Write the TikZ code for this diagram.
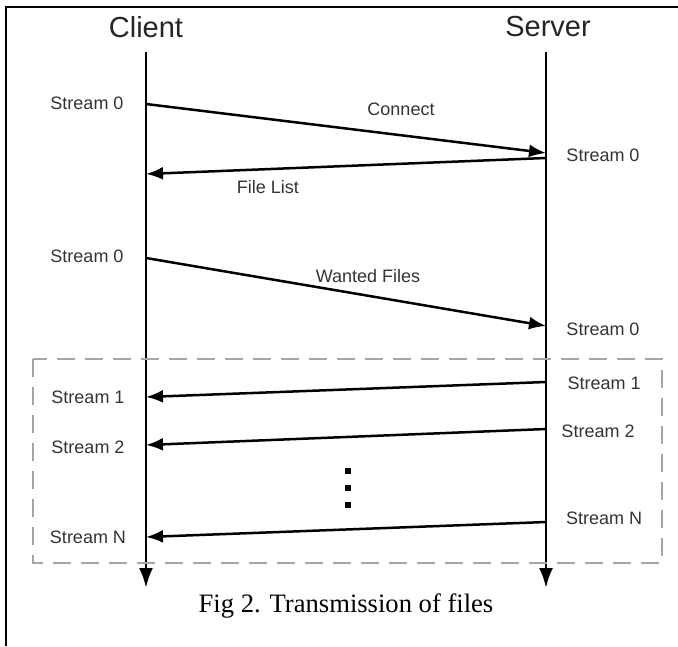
\documentclass[tikz,border=0pt]{standalone}
\usepackage{fontspec}
\setmainfont{Liberation Serif}
\newfontfamily\arialfont{Liberation Sans}
\usetikzlibrary{arrows.meta}

\tikzset{
  lbl/.style={font=\arialfont\fontsize{9}{10}\selectfont, text=black!80, inner sep=1pt},
  msg/.style={line width=1.25pt, -{Latex[length=8.5pt,width=6.5pt]}},
  life/.style={line width=1.4pt, -{Latex[length=10pt,width=7pt]}},
}

\begin{document}
\begin{tikzpicture}[x=0.5pt,y=-0.5pt]
            \useasboundingbox (0,0) rectangle (678,646);
            % 枠
            \draw[line width=1.3pt] (6,646) -- (6,7) -- (678,7);

            % 見出し
            \node[font=\arialfont\fontsize{14.5}{16}\selectfont, text=black!85] (client) at (146,27) {Client};
            \node[font=\arialfont\fontsize{14.5}{16}\selectfont, text=black!85] (server) at (548,27) {Server};

            % 時間軸
            \coordinate (ctop) at (146,52);
            \coordinate (cend) at (146,588);
            \coordinate (stop) at (546,52);
            \coordinate (send) at (546,588);
            \draw[life] (ctop) to (cend);
            \draw[life] (stop) to (send);

            % 破線の枠
            \draw[gray!70, line width=1pt, dash pattern=on 9pt off 5pt] (33,359) rectangle (662,563);

            % Connect
            \coordinate (c1) at (146,104);
            \coordinate (s1) at (546,153);
            \node[lbl] (lc1) at (87,103) {Stream 0};
            \node[lbl] (ls1) at (603,155) {Stream 0};
            \draw[msg] (c1) to (s1);
            \node[lbl] (connect) at (401,109) {Connect};

            % File List
            \coordinate (s2) at (546,158);
            \coordinate (c2) at (146,174);
            \draw[msg] (s2) to (c2);
            \node[lbl] (filelist) at (268,187) {File List};

            % Wanted Files
            \coordinate (c3) at (146,258);
            \coordinate (s3) at (546,326);
            \node[lbl] (lc3) at (87,256) {Stream 0};
            \node[lbl] (ls3) at (603,329) {Stream 0};
            \draw[msg] (c3) to (s3);
            \node[lbl] (wanted) at (368,276) {Wanted Files};

            % Stream 1
            \coordinate (s4) at (546,382);
            \coordinate (c4) at (146,397);
            \node[lbl] (ls4) at (604,383) {Stream 1};
            \node[lbl] (lc4) at (88,397) {Stream 1};
            \draw[msg] (s4) to (c4);

            % Stream 2
            \coordinate (s5) at (546,429);
            \coordinate (c5) at (146,445);
            \node[lbl] (ls5) at (598,431) {Stream 2};
            \node[lbl] (lc5) at (88,447) {Stream 2};
            \draw[msg] (s5) to (c5);

            % 点
            \foreach \y in {471,488,505}
                \fill (345,\y-3) rectangle (351,\y+3);

            % Stream N
            \coordinate (s6) at (546,522);
            \coordinate (c6) at (146,537);
            \node[lbl] (ls6) at (604,518) {Stream N};
            \node[lbl] (lc6) at (88,537) {Stream N};
            \draw[msg] (s6) to (c6);

            % 図の説明
            \node[font=\fontsize{13.3}{15}\selectfont] (caption) at (346,606) {Fig 2. Transmission of files};
        \end{tikzpicture}
\end{document}
